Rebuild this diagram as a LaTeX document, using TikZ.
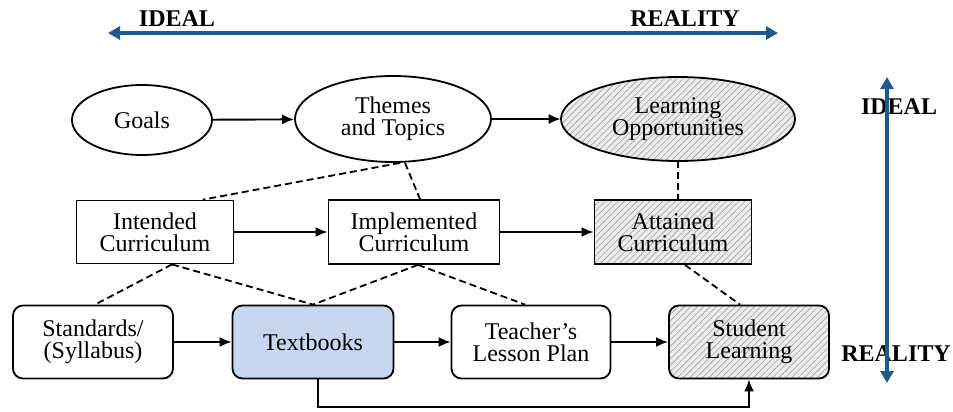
\documentclass[tikz,border=0pt]{standalone}
\usepackage{fontspec}
\setmainfont{Liberation Serif}
\usetikzlibrary{arrows.meta,shapes.geometric,patterns.meta,calc}
\definecolor{tbblue}{HTML}{C7D6EE}
\definecolor{axisblue}{HTML}{1F5A8C}
\tikzset{
  x=1pt, y=-1pt,
  lbl/.style={font=\fontsize{24}{22}\selectfont, align=center, inner sep=0pt},
  ell/.style={lbl, ellipse, draw, line width=1.8pt},
  box/.style={lbl, rectangle, draw, line width=1.8pt},
  rbox/.style={box, rounded corners=10pt},
  hatch/.style={preaction={fill=gray!15}, pattern={Lines[angle=45,distance=4.5pt,line width=0.6pt]}, pattern color=gray!75},
  arr/.style={line width=1.9pt, -{Latex[length=12pt,width=10pt]}},
  dashlink/.style={line width=1.8pt, dash pattern=on 7pt off 4pt},
  axis/.style={draw=axisblue, line width=3.8pt, {Triangle[length=12pt,width=13pt]}-{Triangle[length=12pt,width=13pt]}},
  axislbl/.style={font=\fontsize{24}{24}\selectfont\bfseries, inner sep=0pt}
}
\begin{document}
\begin{tikzpicture}
\useasboundingbox (0,0) rectangle (953,412);
% top row ellipses
\node[ell, minimum width=140pt, minimum height=70pt] (goals) at (142,120) {Goals};
\node[ell, minimum width=196pt, minimum height=86pt] (themes) at (393,119) {Themes\\and Topics};
\node[ell, hatch, minimum width=234pt, minimum height=84pt] (learn) at (678,119) {Learning\\Opportunities};
% middle row
\node[box, minimum width=157pt, minimum height=63pt] (intended) at (155,232) {Intended\\Curriculum};
\node[box, minimum width=171pt, minimum height=64pt] (implemented) at (414,232) {Implemented\\Curriculum};
\node[box, hatch, minimum width=157pt, minimum height=64pt] (attained) at (673,232) {Attained\\Curriculum};
% bottom row
\node[rbox, minimum width=160pt, minimum height=73pt] (standards) at (93,342) {Standards/\\(Syllabus)};
\node[rbox, fill=tbblue, minimum width=161pt, minimum height=73pt] (textbooks) at (313,342) {Textbooks};
\node[rbox, minimum width=159pt, minimum height=73pt] (teacher) at (531,342) {Teacher's\\Lesson Plan};
\node[rbox, hatch, minimum width=160pt, minimum height=73pt] (student) at (749,342) {Student\\Learning};
% solid arrows
\draw[arr] (goals) -- (themes);
\draw[arr] (themes) -- (learn);
\draw[arr] (intended) -- (implemented);
\draw[arr] (implemented) -- (attained);
\draw[arr] (standards) -- (textbooks);
\draw[arr] (textbooks) -- (teacher);
\draw[arr] (teacher) -- (student);
\coordinate (low) at (0,407);
\draw[arr] ([xshift=5pt]textbooks.south) |- (low -| student.south) -- (student.south);
% dashed links
\draw[dashlink] ([xshift=7pt]themes.south) -- ([xshift=48pt]intended.north);
\draw[dashlink] ([xshift=12pt]themes.south) -- ([xshift=6pt]implemented.north);
\draw[dashlink] (learn.south) -- ([xshift=5pt]attained.north);
\draw[dashlink] ([xshift=17pt]intended.south) -- ([xshift=2pt]standards.north);
\draw[dashlink] ([xshift=17pt]intended.south) -- (textbooks.north);
\draw[dashlink] ([xshift=4pt]implemented.south) -- (textbooks.north);
\draw[dashlink] ([xshift=4pt]implemented.south) -- ([xshift=-6pt]teacher.north);
\draw[dashlink] ([xshift=12pt]attained.south) -- ([xshift=-9pt]student.north);
% axis labels
\node[axislbl] (tideal) at (177,19) {IDEAL};
\node[axislbl] (treal) at (685,19) {REALITY};
\node[axislbl] (rideal) at (899,107) {IDEAL};
\node[axislbl] (rreal) at (896,354) {REALITY};
% axes
\coordinate (tl) at (108,33);
\coordinate (tr) at (778,33);
\coordinate (rt) at (887,77);
\coordinate (rb) at (887,383);
\draw[axis] (tl) -- (tr);
\draw[axis] (rt) -- (rb);
\end{tikzpicture}
\end{document}
